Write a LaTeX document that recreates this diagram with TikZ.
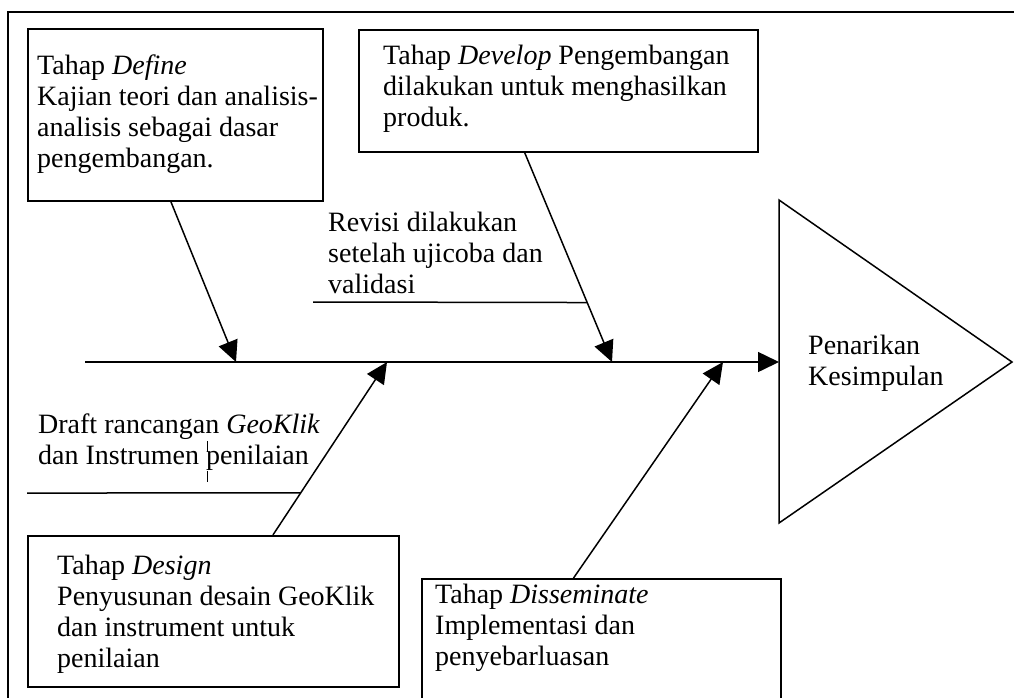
\documentclass[tikz,border=0pt]{standalone}
\usepackage{fontspec}
\setmainfont{Liberation Serif}
\usetikzlibrary{arrows.meta,calc}

\begin{document}
\begin{tikzpicture}[x=1pt,y=-1pt,line join=miter,
  stagebox/.style={draw,line width=1.6pt,inner sep=0pt,anchor=north west},
  lbl/.style={anchor=base west,inner sep=0pt,align=left,font=\fontsize{28}{31}\selectfont},
  pointer/.style={-{Triangle[length=21pt,width=20pt]},line width=1.5pt}]
  \useasboundingbox (0,0) rectangle (1014,697);
  \clip (0,0) rectangle (1014,697);
  \draw[line width=1.6pt] (8,12) rectangle (1030,720);
  % stage boxes
  \node[stagebox,minimum width=295pt,minimum height=172pt] (define) at (27,28) {};
  \node[stagebox,minimum width=399pt,minimum height=122pt] (develop) at (358,29) {};
  \node[stagebox,minimum width=371pt,minimum height=151pt] (design) at (27,535) {};
  \node[stagebox,minimum width=359pt,minimum height=140pt] (dissem) at (421,578) {};
  \draw[line width=1.5pt] (779,200) -- (1012,362) -- (779,523) -- cycle;
  % spine
  \coordinate (tail) at (85,362);
  \coordinate (head) at (779,362);
  \coordinate (p1) at (236,362);
  \coordinate (p2) at (387,362);
  \coordinate (p3) at (612,362);
  \coordinate (p4) at (723,362);
  \draw[pointer] (tail) -- (head);
  % bones
  \coordinate (dftail) at ($(define.south west)!0.485!(define.south east)$);
  \coordinate (dvtail) at ($(develop.south west)!0.416!(develop.south east)$);
  \coordinate (dstail) at ($(design.north west)!0.66!(design.north east)$);
  \coordinate (smtail) at ($(dissem.north west)!0.423!(dissem.north east)$);
  \draw[pointer] (dftail) -- (p1);
  \draw[pointer] (dvtail) -- (p3);
  \draw[pointer] (dstail) -- (p2);
  \draw[pointer] (smtail) -- (p4);
  \draw[line width=1.5pt] (313,302) -- ($(dvtail)!0.716!(p3)$);
  \draw[line width=1.5pt] (27,493) -- ($(dstail)!0.243!(p2)$);
  \draw[line width=0.8pt] (207,441) -- (207,452) (207,471) -- (207,482);
  % labels (anchored at the baseline of the last line)
  \node[lbl] (definetxt) at (37,167) {Tahap \textit{Define}\\Kajian teori dan analisis-\\analisis sebagai dasar\\pengembangan.};
  \node[lbl] (developtxt) at (383,126) {Tahap \textit{Develop} Pengembangan\\dilakukan untuk menghasilkan\\produk.};
  \node[lbl] (revisi) at (328,293) {Revisi dilakukan\\setelah ujicoba dan\\validasi};
  \node[lbl] (draft) at (38,464) {Draft rancangan \textit{GeoKlik}\\dan Instrumen penilaian};
  \node[lbl] (designtxt) at (57,667) {Tahap \textit{Design}\\Penyusunan desain GeoKlik\\dan instrument untuk\\penilaian};
  \node[lbl] (dissemtxt) at (435,665) {Tahap \textit{Disseminate}\\Implementasi dan\\penyebarluasan};
  \node[lbl] (conclusion) at (808,385) {Penarikan\\Kesimpulan};
\end{tikzpicture}
\end{document}
